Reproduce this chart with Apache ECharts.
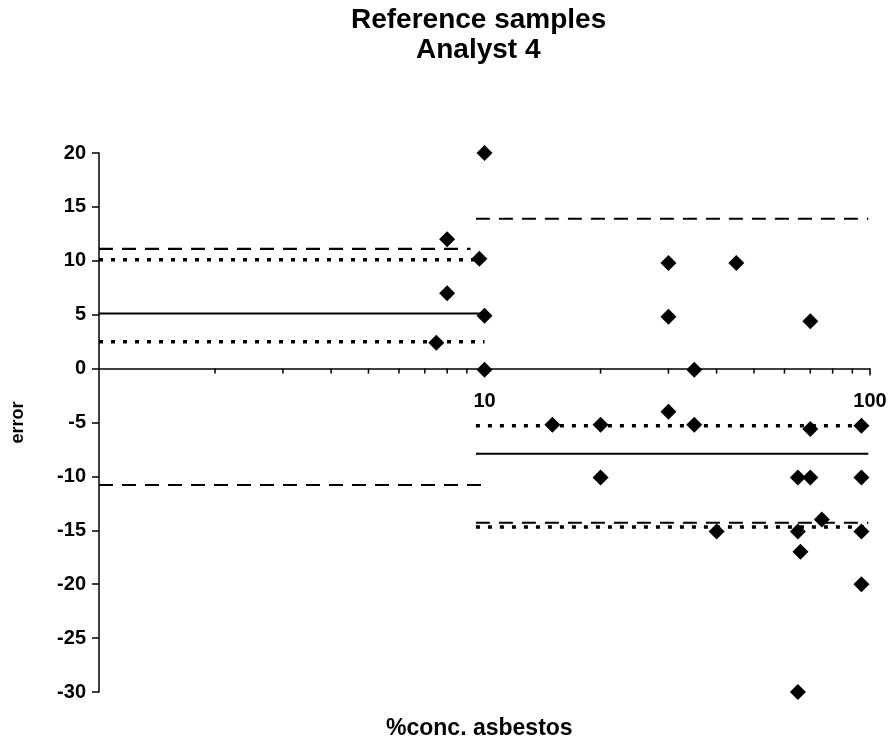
<!DOCTYPE html>
<html>
<head>
    <meta charset="utf-8">
    <title>Reference samples Analyst 4</title>
    <script src="https://cdn.jsdelivr.net/npm/echarts@6/dist/echarts.min.js"></script>
    <style type="text/css">
        html, body {
            margin: 0;
            padding: 0;
            background: #ffffff;
        }
        #chart {
            width: 891px;
            height: 745px;
        }
    </style>
</head>
<body>
<div id="chart"></div>
<script>
    // 测量点 (浓度 %, 误差)
    var conc = [8, 8, 7.5, 9.7, 10, 10, 10, 30, 45, 30, 70, 35, 30, 15, 20, 35, 70, 95,
        20, 65, 70, 95, 75, 40, 65, 95, 66, 95, 65];
    var err = [12, 7, 2.4, 10.2, 20, 4.9, -0.1, 9.8, 9.8, 4.8, 4.4, -0.1, -4, -5.2, -5.2, -5.2, -5.6, -5.3,
        -10.1, -10.1, -10.1, -10.1, -14, -15.1, -15.1, -15.1, -17, -20, -30];

    // 水平参考线
    var lineY = [11.1, 10.1, 5.1, 2.5, -10.8, 13.9, -5.3, -7.9, -14.3, -14.7];
    var lineFrom = [1, 1, 1, 1, 1, 9.5, 9.5, 9.5, 9.5, 9.5];
    var lineTo = [9.2, 9.4, 9.8, 10, 9.8, 99, 99, 99, 99, 99];
    var lineKind = ['dash', 'dot', 'solid', 'dot', 'dash', 'dash', 'dot', 'solid', 'dash', 'dot'];

    // 轴刻度
    var yTicks = [-30, -25, -20, -15, -10, -5, 0, 5, 10, 15, 20];
    var xMinorTicks = [2, 3, 4, 5, 6, 7, 8, 9, 20, 30, 40, 50, 60, 70, 80, 90];

    var chart = echarts.init(document.getElementById('chart'));
    var font = 'Liberation Sans, Arial, sans-serif';

    // 图表区位置
    var gridTop = 153, gridBottom = 53, plotH = 745 - gridTop - gridBottom;
    // x 轴放到 y=0 处
    var xOffset = -plotH * (0 - yTicks[0]) / (yTicks[yTicks.length - 1] - yTicks[0]);

    var styles = {
        dash: {type: [14, 9], width: 2.2},
        dot: {type: [4, 8], width: 3.5},
        solid: {type: 'solid', width: 2}
    };

    var series = [];
    for (var i = 0; i < lineY.length; i++) {
        series.push({
            type: 'line',
            data: [[lineFrom[i], lineY[i]], [lineTo[i], lineY[i]]],
            symbol: 'none',
            silent: true,
            lineStyle: {
                color: '#000',
                width: styles[lineKind[i]].width,
                type: styles[lineKind[i]].type
            },
            z: 2
        });
    }
    // 次刻度
    series.push({
        type: 'scatter',
        data: xMinorTicks.map(function (v) { return [v, 0]; }),
        symbol: 'rect',
        symbolSize: [1.5, 5],
        symbolOffset: [0, 2.5],
        itemStyle: {color: '#000', opacity: 1},
        silent: true,
        z: 3
    });
    series.push({
        type: 'scatter',
        data: conc.map(function (c, k) { return [c, err[k]]; }),
        symbol: 'diamond',
        symbolSize: 16,
        itemStyle: {color: '#000', opacity: 1},
        z: 5
    });

    var option = {
        backgroundColor: '#ffffff',
        animation: false,
        grid: {left: 99, right: 21, top: gridTop, bottom: gridBottom},
        xAxis: {
            type: 'log',
            logBase: 10,
            min: 1,
            max: 100,
            offset: xOffset,
            axisLine: {onZero: false, lineStyle: {color: '#000', width: 1.5}},
            axisTick: {show: true, length: 7, lineStyle: {color: '#000', width: 1.5}},
            axisLabel: {
                showMinLabel: false,
                color: '#000',
                fontFamily: font,
                fontWeight: 'bold',
                fontSize: 20,
                margin: 23
            },
            splitLine: {show: false},
            minorTick: {show: false}
        },
        yAxis: {
            type: 'value',
            min: yTicks[0],
            max: yTicks[yTicks.length - 1],
            interval: 5,
            name: 'error',
            nameLocation: 'middle',
            nameGap: 72,
            nameTextStyle: {color: '#000', fontFamily: font, fontWeight: 'bold', fontSize: 18},
            axisLine: {show: true, onZero: false, lineStyle: {color: '#000', width: 1.5}},
            axisTick: {show: true, length: 7, lineStyle: {color: '#000', width: 1.5}},
            axisLabel: {
                color: '#000',
                fontFamily: font,
                fontWeight: 'bold',
                fontSize: 20,
                margin: 13
            },
            splitLine: {show: false}
        },
        graphic: [
            {
                type: 'text',
                left: 351, top: 6,
                style: {text: 'Reference samples', font: 'bold 28px ' + font, fill: '#000'}
            },
            {
                type: 'text',
                left: 416, top: 36,
                style: {text: 'Analyst 4', font: 'bold 28px ' + font, fill: '#000'}
            },
            {
                type: 'text',
                left: 386, top: 717,
                style: {text: '%conc. asbestos', font: 'bold 23px ' + font, fill: '#000'}
            }
        ],
        series: series
    };

    chart.setOption(option);
</script>
</body>
</html>
